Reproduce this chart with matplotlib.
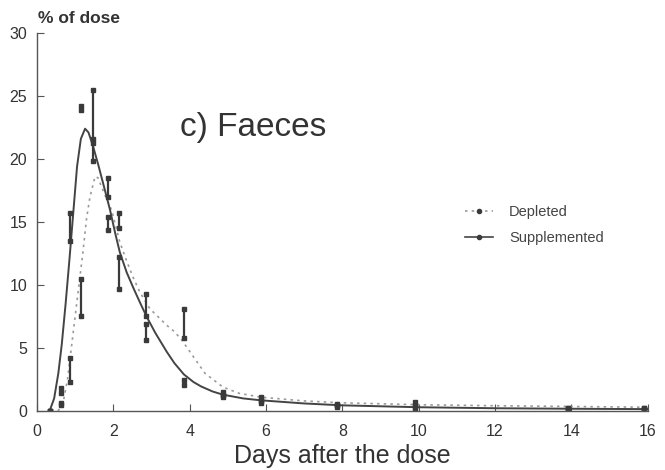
import numpy as np
import matplotlib
matplotlib.use("Agg")
import matplotlib.pyplot as plt
from matplotlib.lines import Line2D

plt.rcParams['font.family'] = ['Liberation Sans', 'DejaVu Sans']

# sampling times (days) and error bar ends
t = [0.33, 0.62, 0.86, 1.15, 1.47, 1.85, 2.15, 2.85, 3.85, 4.87, 5.86, 7.87, 9.9, 13.9, 15.9]
supp_lo = [0.0, 1.4, 13.5, 23.9, 21.3, 17.0, 9.7, 5.6, 2.1, 1.1, 0.6, 0.35, 0.1, 0.15, 0.15]
supp_hi = [0.0, 1.8, 15.7, 24.2, 25.5, 18.5, 12.2, 6.9, 2.5, 1.3, 0.8, 0.45, 0.3, 0.25, 0.25]
depl_lo = [0.0, 0.5, 2.3, 7.5, 19.8, 14.4, 14.5, 7.5, 5.8, 1.3, 0.9, 0.45, 0.5, 0.15, 0.15]
depl_hi = [0.0, 0.6, 4.2, 10.5, 21.6, 15.4, 15.7, 9.3, 8.1, 1.5, 1.1, 0.55, 0.7, 0.25, 0.25]

# fitted curves
supp_x = [0.33, 0.45, 0.56, 0.65, 0.75, 0.85, 0.95, 1.05, 1.15, 1.26, 1.35, 1.47, 1.6, 1.73,
          1.91, 2.05, 2.17, 2.35, 2.52, 2.7, 2.87, 3.1, 3.4, 3.6, 3.85, 4.1, 4.3, 4.6, 4.87,
          5.4, 5.86, 7.0, 8.0, 10.0, 12.0, 14.0, 16.0]
supp_y = [0.0, 1.0, 3.0, 5.3, 8.5, 12.0, 15.7, 19.4, 21.6, 22.4, 22.1, 21.0, 19.6, 18.1,
          16.0, 14.1, 12.6, 11.0, 9.8, 8.6, 7.5, 6.2, 4.7, 3.8, 2.9, 2.3, 1.95, 1.55, 1.3,
          1.0, 0.85, 0.6, 0.45, 0.3, 0.22, 0.18, 0.15]
depl_x = [0.55, 0.62, 0.7, 0.8, 0.9, 1.0, 1.1, 1.2, 1.3, 1.39, 1.52, 1.6, 1.69, 1.8, 1.96,
          2.17, 2.35, 2.52, 2.7, 2.96, 3.2, 3.4, 3.6, 3.8, 4.1, 4.4, 4.87, 5.3, 5.86, 7.0,
          8.0, 10.0, 12.0, 14.0, 16.0]
depl_y = [0.0, 0.3, 0.9, 2.5, 5.0, 7.5, 10.0, 12.5, 15.3, 17.0, 18.6, 18.5, 17.8, 17.0, 15.9,
          13.4, 11.9, 10.6, 9.4, 8.1, 7.4, 6.8, 6.3, 5.6, 4.3, 3.0, 1.9, 1.4, 1.1, 0.8,
          0.65, 0.5, 0.42, 0.36, 0.3]

fig = plt.figure(figsize=(6.65, 4.7), dpi=100)
ax = fig.add_axes([0.0556, 0.1255, 0.9184, 0.8045])

dark = '#3a3a3a'
ax.plot(depl_x, depl_y, linestyle=(0, (1.5, 2.5)), color='#9a9a9a', lw=1.2)
ax.plot(supp_x, supp_y, '-', color='#444444', lw=1.4)

for lo, hi in [(supp_lo, supp_hi), (depl_lo, depl_hi)]:
    for ti, a, b in zip(t, lo, hi):
        ax.plot([ti, ti], [a, b], '-', color=dark, lw=1.6, marker='s', ms=3.5,
                mfc=dark, mec=dark)

ax.set_xlim(0, 16)
ax.set_ylim(0, 30)
ax.set_xticks(np.arange(0, 17, 2))
ax.set_yticks(np.arange(0, 31, 5))
ax.spines['top'].set_visible(False)
ax.spines['right'].set_visible(False)
for s in ['left', 'bottom']:
    ax.spines[s].set_color('#555555')
    ax.spines[s].set_linewidth(1.0)
ax.tick_params(direction='in', length=5, width=0.8, colors='#555555',
               labelcolor='#333333', labelsize=11.5)
ax.tick_params(axis='x', pad=9)
ax.tick_params(axis='y', pad=7)
ax.set_xlabel('Days after the dose', fontsize=18, color='#333333', labelpad=4)

fig.text(0.057, 0.952, '% of dose', fontsize=12.5, color='#333333', fontweight='bold')
ax.text(3.75, 22.5, 'c) Faeces', fontsize=24, color='#333333', va='center')

handles = [Line2D([], [], linestyle=(0, (1.5, 2.5)), color='#9a9a9a', lw=1.2,
                  marker='o', ms=3, mfc=dark, mec=dark),
           Line2D([], [], linestyle='-', color='#444444', lw=1.2,
                  marker='o', ms=3, mfc=dark, mec=dark)]
leg = ax.legend(handles, ['Depleted', 'Supplemented'], loc='upper left',
                bbox_to_anchor=(0.68, 0.58), frameon=False, numpoints=1,
                handlelength=1.9, handletextpad=1.1, fontsize=10.5, labelspacing=0.85)
for txt in leg.get_texts():
    txt.set_color('#444444')

fig.savefig('out.png', dpi=100, facecolor='white')
